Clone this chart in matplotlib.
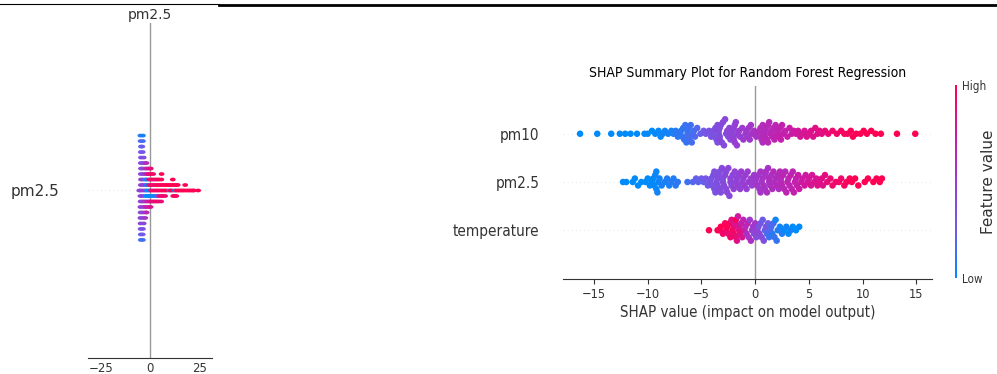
import numpy as np
import matplotlib
matplotlib.use('Agg')
import matplotlib.pyplot as plt
from matplotlib import font_manager
from matplotlib.colors import LinearSegmentedColormap, Normalize
from matplotlib.cm import ScalarMappable
from matplotlib.lines import Line2D

# the right-hand chart uses a narrow face; DejaVu condensed if present, else Liberation Sans
have_condensed = any(f.name == 'DejaVu Sans' and f.stretch == 'condensed'
                     for f in font_manager.fontManager.ttflist)
if have_condensed:
    NARROW = ['DejaVu Sans']
    NARROW_STRETCH = 'condensed'
else:
    NARROW = ['Liberation Sans', 'DejaVu Sans']
    NARROW_STRETCH = 'normal'
WIDE = ['DejaVu Sans']
plt.rcParams['font.family'] = NARROW
plt.rcParams['font.stretch'] = NARROW_STRETCH

# ---- left panel: single-feature summary for pm2.5 ----
# shap values, grouped by the swarm column they fall into
left_shap = [
    -5.5,
    -4.8, -4.7, -4.9, -4.6, -4.8, -4.7, -4.9, -4.6, -4.8, -4.7, -4.9, -4.6, -4.8, -4.7, -4.8, -4.6, -4.7, -4.8, -4.7, -4.9,
    -3.6, -3.7, -3.8, -3.6, -3.7, -3.5, -3.6, -3.8, -3.7, -3.6, -3.7, -3.2, -3.2, -3.7, -3.6, -3.9, -3.7, -3.6, -3.6, -3.6,
    -2.4, -2.5, -2.3, -2.4, -2.6, -2.3, -2.5, -2.4, -2.3, -2.5, -2.4,
    -1.5, -1.6, -1.4, -1.6, -1.5, -1.4, -1.6, -1.5, -1.7, -1.8,
    -0.5, -0.4, -0.6, -0.5, -0.4, -0.6, -0.5, -0.4,
    0.5, 0.4, 0.6, 0.5, 0.4, 0.5, 0.3, 0.4,
    1.5, 1.4, 1.6, 1.5, 1.4, 1.6,
    2.5, 2.4, 2.6, 2.5, 2.4,
    3.5, 3.4, 3.6, 3.5, 3.4,
    4.5, 4.4, 4.6, 4.5, 4.4,
    5.5, 5.4, 5.6, 5.8, 5.7, 5.9,
    6.5, 6.4, 6.6,
    7.5, 7.4, 7.7,
    8.5, 8.4,
    9.9, 9.4,
    10.5, 10.4,
    11.5, 11.4, 11.8, 11.6,
    12.7, 12.4, 12.6,
    13.5, 13.4, 13.4,
    14.5, 14.1,
    15.5, 16.5, 17.5, 17.9, 18.6, 19.6, 20.6, 21.6, 22.3, 24.5]
left_value = [
    45,
    52, 48, 45, 50, 48, 45, 50, 48, 45, 42, 48, 42, 45, 36, 38, 32, 35, 28, 24, 18,
    55, 50, 52, 48, 52, 48, 50, 45, 48, 42, 45, 42, 45, 36, 40, 32, 35, 26, 24, 16,
    50, 55, 10, 15, 58, 58, 62, 58, 62, 55, 58,
    12, 10, 12, 14, 70, 75, 70, 70, 65, 62,
    10, 80, 12, 85, 80, 85, 75, 80,
    85, 88, 14, 85, 80, 90, 80, 85,
    88, 90, 15, 88, 85, 90,
    90, 88, 18, 90, 85,
    92, 90, 25, 90, 88,
    90, 92, 80, 92, 88,
    92, 90, 85, 92, 85, 95,
    92, 95, 90,
    95, 92, 88,
    95, 95,
    12, 95,
    95, 95,
    95, 95, 92, 95,
    12, 95, 92,
    95, 95, 90,
    95, 95,
    95, 95, 95, 95, 95, 95, 95, 95, 95, 97]

# ---- right panel: Random Forest summary ----
features = ['pm10', 'pm2.5', 'temperature']

pm10_shap = [
    -16.3, -14.7, -13.4, -12.6, -12.1, -11.6, -11.0, -10.3, -10.0, -9.6, -9.3, -9.0, -8.8, -8.6, -8.4, -8.1, -7.8,
    -7.6, -7.4, -7.2, -7.0, -6.9, -6.8, -6.7, -6.6, -6.5, -6.4, -6.3, -6.3, -6.2, -6.2, -6.1, -6.0, -5.9, -5.8, -5.7, -5.6, -5.4,
    -5.1, -4.8, -4.6,
    -4.3, -4.1, -4.0, -3.9, -3.8, -3.7, -3.6, -3.5, -3.5, -3.4, -3.4, -3.3, -3.3, -3.3, -3.2, -3.1, -3.0, -2.9, -2.8, -2.7,
    -2.6, -2.5, -2.4, -2.3, -2.2, -2.1, -2.0, -2.0, -2.0, -1.9, -1.9, -1.8, -1.7, -1.6, -1.5, -1.4, -1.2, -1.1, -0.9, -0.8,
    -0.7, -0.6, -0.5, -0.4, -0.3,
    -0.1, 0.1,
    0.3, 0.4, 0.5, 0.5, 0.6, 0.7, 0.7, 0.8, 0.9, 0.9, 1.0, 1.1, 1.2, 1.2, 1.3, 1.4, 1.5, 1.6, 1.7, 1.8,
    1.9, 2.0, 2.1, 2.2, 2.3, 2.4, 2.5, 2.6, 2.8, 3.0, 3.2, 3.4, 3.6, 3.8, 4.0,
    4.2, 4.4, 4.6, 4.8, 5.0, 5.2, 5.4, 5.6, 5.8, 6.0, 6.2, 6.5, 6.8,
    7.2, 7.6, 8.0, 8.3, 8.6, 8.9, 9.1, 9.4, 9.8, 10.1, 10.4, 10.8, 11.2,
    11.7, 13.2, 14.9]
pm10_value = [
    12, 14, 15, 16, 18, 17, 19, 20, 21, 20, 22, 23, 22, 24, 25, 26, 27,
    30, 31, 33, 32, 34, 35, 33, 36, 37, 35, 38, 36, 39, 37, 40, 38, 41, 42, 40, 43, 44,
    50, 55, 58,
    60, 62, 58, 63, 61, 64, 62, 66, 63, 65, 68, 64, 67, 70, 66, 69, 71, 68, 72, 70,
    73, 71, 74, 72, 75, 77, 74, 76, 79, 77, 80, 78, 81, 79, 82, 80, 83, 85, 84, 86,
    85, 88, 87, 89, 90,
    92, 93,
    95, 97, 94, 98, 96, 99, 97, 100, 98, 101, 99, 102, 100, 103, 101, 104, 102, 105, 103, 106,
    104, 107, 105, 108, 106, 109, 107, 110, 108, 111, 112, 113, 114, 115, 117,
    119, 121, 120, 123, 122, 125, 124, 127, 126, 129, 128, 131, 133,
    136, 138, 140, 142, 141, 144, 146, 145, 148, 150, 152, 155, 158,
    162, 168, 175]

pm25_shap = [
    -12.3, -12.0, -11.4, -11.2, -10.9, -10.6,
    -10.2, -10.0, -9.8, -9.6, -9.5, -9.4, -9.3, -9.2, -9.2, -9.1, -9.0, -8.9, -8.7,
    -8.4, -8.2, -8.0, -7.8, -7.6, -7.4, -7.2,
    -6.3,
    -5.8, -5.5, -5.3, -5.0, -4.8, -4.6, -4.4, -4.2,
    -4.1, -4.0, -3.9, -3.8, -3.8, -3.7, -3.6, -3.5, -3.5, -3.4, -3.3, -3.3, -3.2, -3.1, -3.0,
    -3.0, -2.9, -2.8, -2.7, -2.7, -2.6, -2.5, -2.4, -2.3, -2.3, -2.2, -2.1, -2.0, -1.9, -1.8,
    -1.7, -1.6, -1.5, -1.4, -1.3, -1.2, -1.1, -1.0, -0.9, -0.8, -0.7, -0.6, -0.4, -0.3, -0.1,
    0.0, 0.1, 0.2, 0.3, 0.4, 0.5, 0.5, 0.6, 0.7, 0.8, 0.9, 0.9, 1.0, 1.1, 1.2,
    1.3, 1.3, 1.4, 1.5, 1.6, 1.7, 1.8, 1.9, 2.0, 2.1, 2.2, 2.3, 2.4, 2.4, 2.5,
    2.6, 2.7, 2.8, 2.9, 3.0, 3.1, 3.2, 3.3, 3.4, 3.5, 3.6, 3.7, 3.8, 3.9, 4.0,
    4.1, 4.3, 4.4, 4.6, 4.7, 4.9, 5.0, 5.2, 5.3, 5.5, 5.7, 5.8, 6.0, 6.2, 6.3, 6.5,
    6.7, 7.0, 7.2, 7.5, 7.8, 8.0, 8.3, 8.5, 8.8, 9.0, 9.3, 9.6,
    10.2, 10.5, 11.0, 11.3, 11.6, 11.8]
pm25_value = [
    5, 6, 6, 7, 7, 8,
    8, 9, 9, 10, 9, 10, 11, 10, 11, 12, 11, 12, 13,
    13, 14, 13, 15, 14, 15, 16,
    18,
    22, 24, 23, 26, 25, 28, 27, 30,
    29, 30, 31, 30, 32, 31, 33, 32, 31, 33, 34, 32, 33, 35, 34,
    33, 35, 36, 34, 35, 37, 36, 35, 37, 38, 36, 37, 39, 38, 37,
    39, 40, 38, 39, 41, 40, 39, 41, 42, 40, 41, 43, 42, 41, 43,
    43, 44, 45, 43, 44, 46, 45, 44, 46, 47, 45, 46, 47, 48, 46,
    47, 49, 48, 47, 49, 50, 48, 49, 51, 50, 49, 51, 52, 50, 51,
    53, 52, 51, 53, 54, 52, 53, 55, 54, 53, 55, 56, 54, 55, 57,
    57, 59, 58, 60, 59, 61, 60, 62, 61, 63, 62, 64, 63, 65, 64, 66,
    67, 68, 69, 70, 71, 70, 72, 73, 74, 75, 76, 77,
    80, 82, 84, 86, 88, 90]

temp_shap = [
    -4.3,
    -3.5, -3.3, -3.2, -3.0,
    -2.8, -2.7, -2.6, -2.5, -2.4, -2.3, -2.2, -2.1, -2.0, -2.0, -1.9, -1.8, -1.8, -1.7, -1.6,
    -1.5, -1.5, -1.4, -1.3, -1.2, -1.1, -1.0, -0.9,
    -0.8, -0.7, -0.6, -0.5, -0.4, -0.3, -0.2, -0.1, 0.0, 0.1, 0.2, 0.3, 0.4,
    0.5, 0.6, 0.7, 0.8, 0.9, 1.0, 1.1, 1.2, 1.3, 1.4, 1.5, 1.6, 1.7, 1.8, 1.9, 2.0, 2.1, 2.3, 2.5, 2.7,
    2.9, 3.1, 3.3, 3.5, 3.8, 4.1]
temp_value = [
    33,
    32, 31, 32, 30,
    31, 30, 32, 29, 31, 30, 28, 31, 29, 30, 27, 29, 31, 28, 26,
    29, 27, 28, 25, 27, 24, 26, 23,
    22, 24, 21, 20, 22, 19, 20, 18, 21, 17, 19, 16, 18,
    15, 17, 14, 16, 13, 15, 12, 14, 11, 13, 12, 10, 12, 11, 9, 11, 10, 9, 10, 8,
    9, 8, 9, 7, 8, 7]

AXIS = '#333333'
cmap = LinearSegmentedColormap.from_list(
    'red_blue', ['#008bfb', '#6d5ce8', '#9b3bd0', '#cc1aa3', '#ff0052'])


def swarm_offsets(vals, bin_width, row_height=0.4):
    # same stacking idea as shap's beeswarm: 0, +1, -1, +2, -2 ... per bin
    vals = np.asarray(vals, float)
    quant = np.round((vals - vals.min()) / bin_width)
    order = np.argsort(quant, kind='stable')
    ys = np.zeros(len(vals))
    layer, last = 0, None
    for i in order:
        if quant[i] != last:
            layer = 0
        ys[i] = np.ceil(layer / 2) * ((layer % 2) * 2 - 1)
        layer += 1
        last = quant[i]
    return ys * 0.9 * row_height / np.max(ys + 1)


def colour_range(vals):
    return np.nanpercentile(vals, 5), np.nanpercentile(vals, 95)


W, H = 997, 374
fig = plt.figure(figsize=(W / 100, H / 100), dpi=100)


def px_box(x0, y0, x1, y1):
    return [x0 / W, 1 - y1 / H, (x1 - x0) / W, (y1 - y0) / H]


# header rules of the surrounding page
fig.add_artist(Line2D([0, 219 / W], [1 - 4.4 / H] * 2, color='black', lw=0.8))
fig.add_artist(Line2D([219 / W, 1], [1 - 5.3 / H] * 2, color='black', lw=2.0))

# ---- left panel ----
ax1 = fig.add_axes(px_box(88.3, 22.7, 211.7, 358.3))
t = np.linspace(0, 2 * np.pi, 30)
ellipse = np.column_stack([np.cos(t), 0.66 * np.sin(t)])
lv = np.asarray(left_value, float)
vmin, vmax = colour_range(lv)
ax1.axhline(0, color='#cccccc', lw=0.5, dashes=(1, 5), zorder=-1)
ax1.axvline(0, color='#999999', lw=1, zorder=-1)
ax1.scatter(left_shap, swarm_offsets(left_shap, 1.0), c=np.clip(lv, vmin, vmax),
            cmap=cmap, vmin=vmin, vmax=vmax, marker=ellipse, s=17, linewidths=0, zorder=3)
ax1.set_xlim(-31.4, 31.4)
ax1.set_ylim(-1, 1)
ax1.set_xticks([-25, 0, 25])
ax1.set_yticks([0], labels=['pm2.5'])
ax1.tick_params(axis='x', labelsize=8.5, length=0, pad=3, color=AXIS, labelcolor=AXIS)
ax1.tick_params(axis='y', labelsize=11, length=0, pad=21, labelcolor=AXIS)
for lab in ax1.get_xticklabels() + ax1.get_yticklabels():
    lab.set_fontfamily(WIDE)
    lab.set_fontstretch('normal')
for s in ['top', 'right', 'left']:
    ax1.spines[s].set_visible(False)
ax1.spines['bottom'].set_color(AXIS)
ax1.set_title('pm2.5', fontsize=10, pad=3, family=WIDE, stretch='normal', color=AXIS)

# ---- right panel ----
ax2 = fig.add_axes(px_box(563.3, 85.5, 932, 278.5))
rows = [(2, pm10_shap, pm10_value), (1, pm25_shap, pm25_value), (0, temp_shap, temp_value)]
for pos, sv, fv in rows:
    fv = np.asarray(fv, float)
    vmin, vmax = colour_range(fv)
    ax2.axhline(pos, color='#cccccc', lw=0.5, dashes=(1, 5), zorder=-1)
    ax2.scatter(sv, pos + swarm_offsets(sv, 0.6), c=np.clip(fv, vmin, vmax),
                cmap=cmap, vmin=vmin, vmax=vmax, s=22, linewidths=0, zorder=3)
ax2.axvline(0, color='#999999', lw=1, zorder=-1)
ax2.set_ylim(-1, 3)
ax2.set_yticks([2, 1, 0], labels=features)
ax2.tick_params(axis='y', labelsize=11, length=0, pad=17, labelcolor=AXIS)
ax2.tick_params(axis='x', labelsize=9.2, color=AXIS, labelcolor=AXIS)
for s in ['top', 'right', 'left']:
    ax2.spines[s].set_visible(False)
ax2.spines['bottom'].set_color(AXIS)
ax2.set_xlabel('SHAP value (impact on model output)', fontsize=10.8, color=AXIS, labelpad=3)
ax2.set_title('SHAP Summary Plot for Random Forest Regression', fontsize=10, pad=6)

# colour bar
cax = fig.add_axes(px_box(955, 85, 957, 278))
sm = ScalarMappable(norm=Normalize(0, 1), cmap=cmap)
cb = fig.colorbar(sm, cax=cax, ticks=[0, 1])
cb.set_ticklabels(['Low', 'High'])
cb.ax.tick_params(length=0, labelsize=8.4, labelcolor=AXIS, pad=3.5)
cb.outline.set_visible(False)
fig.text(996 / W, 1 - 181.5 / H, 'Feature value', rotation=90, ha='right', va='center',
         fontsize=11, family=WIDE, stretch='normal', color=AXIS)

fig.savefig('out.png', dpi=100)
